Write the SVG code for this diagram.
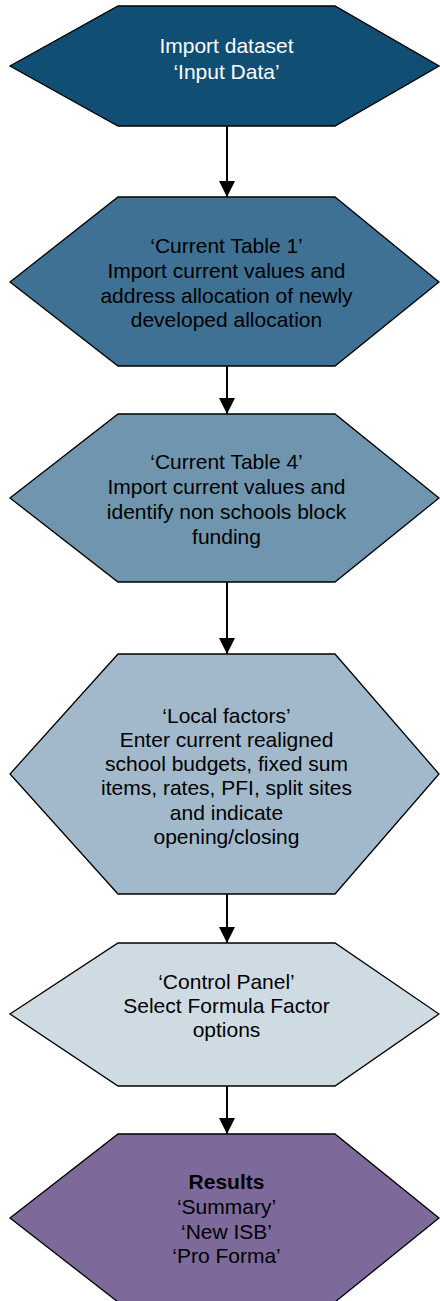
<svg xmlns="http://www.w3.org/2000/svg" width="440" height="1301" viewBox="0 0 440 1301">
  <style>
    .hex { stroke: #000; stroke-width: 1.3; stroke-linejoin: miter; }
    .lbl { font-family: "Liberation Sans", Arial, sans-serif; font-size: 21px; text-anchor: middle; fill: #000; }
    .lbl.light { fill: #fff; }
    .conn line { stroke: #000; stroke-width: 2; }
  </style>
  <defs>
    <marker id="arrow" markerWidth="8" markerHeight="8" refX="8" refY="4" orient="auto" markerUnits="strokeWidth">
      <path d="M0,0 L8,4 L0,8 Z" fill="#000"/>
    </marker>
  </defs>
  <rect width="440" height="1301" fill="#fff"/>

  <g class="conn" id="connectors">
    <line x1="227" y1="126" x2="227" y2="197" marker-end="url(#arrow)"/>
    <line x1="227" y1="366" x2="227" y2="414" marker-end="url(#arrow)"/>
    <line x1="227" y1="582" x2="227" y2="654" marker-end="url(#arrow)"/>
    <line x1="227" y1="894" x2="227" y2="943" marker-end="url(#arrow)"/>
    <line x1="227" y1="1086" x2="227" y2="1134" marker-end="url(#arrow)"/>
  </g>

  <g id="import-dataset">
    <polygon class="hex" fill="#114E73" points="118,6 335,6 439,66 335,126 118,126 10,66"/>
    <text class="lbl light" x="226.5" y="53">Import dataset</text>
    <text class="lbl light" x="226.5" y="79">‘Input Data’</text>
  </g>

  <g id="current-table-1">
    <polygon class="hex" fill="#3E7193" points="118,197 335,197 439,282 335,366 118,366 10,282"/>
    <text class="lbl" x="226.5" y="253">‘Current Table 1’</text>
    <text class="lbl" x="226.5" y="278">Import current values and</text>
    <text class="lbl" x="226.5" y="303">address allocation of newly</text>
    <text class="lbl" x="226.5" y="327">developed allocation</text>
  </g>

  <g id="current-table-4">
    <polygon class="hex" fill="#6F96AE" points="118,414 335,414 439,498 335,582 118,582 10,498"/>
    <text class="lbl" x="226.5" y="469">‘Current Table 4’</text>
    <text class="lbl" x="226.5" y="494">Import current values and</text>
    <text class="lbl" x="226.5" y="519">identify non schools block</text>
    <text class="lbl" x="226.5" y="544">funding</text>
  </g>

  <g id="local-factors">
    <polygon class="hex" fill="#A1B9CA" points="118,654 335,654 439,774 335,894 118,894 10,774"/>
    <text class="lbl" x="226.5" y="723">‘Local factors’</text>
    <text class="lbl" x="226.5" y="747">Enter current realigned</text>
    <text class="lbl" x="226.5" y="771">school budgets, fixed sum</text>
    <text class="lbl" x="226.5" y="795">items, rates, PFI, split sites</text>
    <text class="lbl" x="226.5" y="820">and indicate</text>
    <text class="lbl" x="226.5" y="844">opening/closing</text>
  </g>

  <g id="control-panel">
    <polygon class="hex" fill="#CFDBE3" points="118,943 335,943 439,1014 335,1086 118,1086 10,1014"/>
    <text class="lbl" x="226.5" y="989">‘Control Panel’</text>
    <text class="lbl" x="226.5" y="1013">Select Formula Factor</text>
    <text class="lbl" x="226.5" y="1037">options</text>
  </g>

  <g id="results">
    <polygon class="hex" fill="#7D6A9A" points="118,1134 335,1134 439,1218 335,1302 118,1302 10,1218"/>
    <text class="lbl" x="226.5" y="1189" font-weight="bold">Results</text>
    <text class="lbl" x="226.5" y="1214">‘Summary’</text>
    <text class="lbl" x="226.5" y="1239">‘New ISB’</text>
    <text class="lbl" x="226.5" y="1263">‘Pro Forma’</text>
  </g>
</svg>
